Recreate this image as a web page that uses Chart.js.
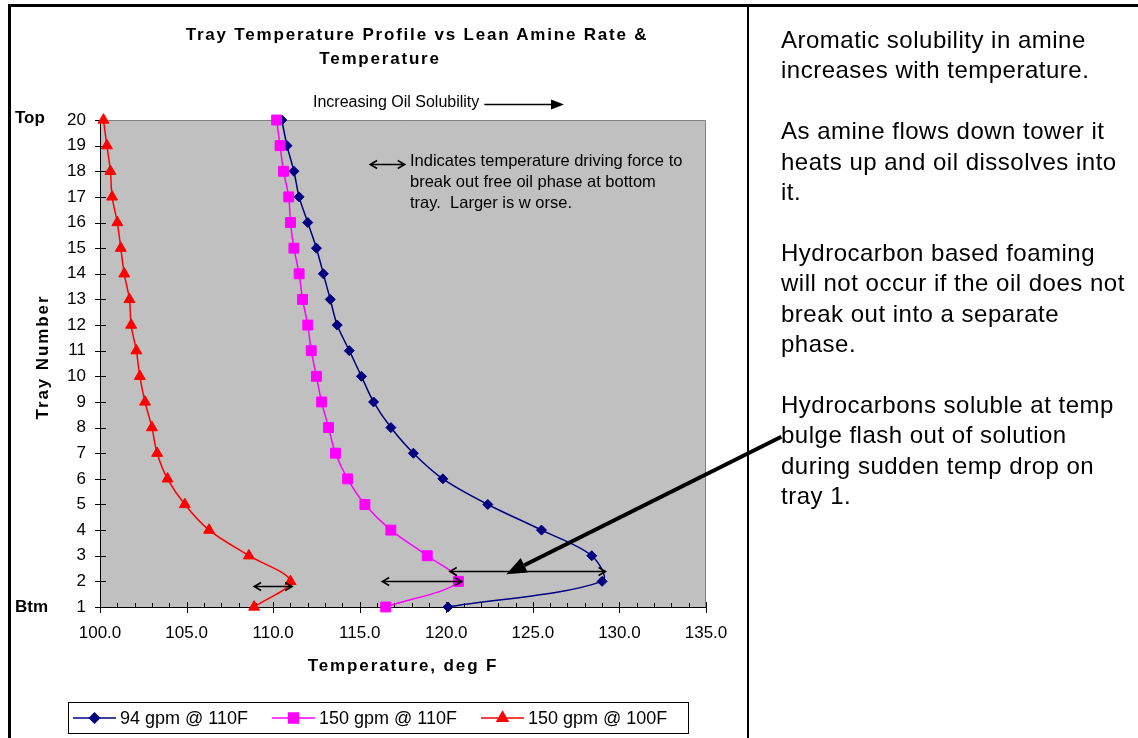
<!DOCTYPE html>
<html>
<head>
<meta charset="utf-8">
<script src="https://cdn.jsdelivr.net/npm/chart.js@4.4.1/dist/chart.umd.min.js"></script>
<style>
  body { margin: 0; background: #fff; }
  #wrap { position: relative; width: 1138px; height: 738px; overflow: hidden; background: #fff; font-family: "Liberation Sans", Arial, sans-serif; color: #000; }
  #c { position: absolute; left: 0; top: 0; }
  .line { position: absolute; background: #000; }
  .txt { position: absolute; white-space: nowrap; }
  .bold { font-weight: bold; }
</style>
</head>
<body>
<div id="wrap">
  <canvas id="c" width="1138" height="738"></canvas>

  <div class="line" style="left:8px;top:4px;width:1130px;height:3px"></div>
  <div class="line" style="left:8px;top:4px;width:3px;height:734px"></div>
  <div class="line" style="left:747px;top:4px;width:2px;height:734px"></div>

  <!-- titulo -->
  <div class="txt bold" style="left:417px;top:25px;transform:translateX(-50%);font-size:17px;letter-spacing:1.8px">Tray Temperature Profile vs Lean Amine Rate &amp;</div>
  <div class="txt bold" style="left:380px;top:49px;transform:translateX(-50%);font-size:17px;letter-spacing:1.8px">Temperature</div>

  <div class="txt" style="left:313px;top:93px;font-size:16px">Increasing Oil Solubility</div>

  <div class="txt bold" style="left:15px;top:108px;font-size:17px">Top</div>
  <div class="txt bold" style="left:15px;top:597px;font-size:17px">Btm</div>

  <div class="txt bold" style="left:43px;top:357px;transform:translate(-50%,-50%) rotate(-90deg);font-size:17px;letter-spacing:1.9px">Tray Number</div>
  <div class="txt bold" style="left:403px;top:656px;transform:translateX(-50%);font-size:17px;letter-spacing:1.9px">Temperature, deg F</div>

  <div class="txt" style="left:410px;top:150px;font-size:16.5px;line-height:21px">Indicates temperature driving force to<br>break out free oil phase at bottom<br>tray.&nbsp; Larger is w orse.</div>

  <!-- painel de notas -->
  <div class="txt" style="left:781px;top:25px;font-size:24px;letter-spacing:0.5px;line-height:30.4px">
    Aromatic solubility in amine<br>increases with temperature.<br><br>
    As amine flows down tower it<br>heats up and oil dissolves into<br>it.<br><br>
    Hydrocarbon based foaming<br>will not occur if the oil does not<br>break out into a separate<br>phase.<br><br>
    Hydrocarbons soluble at temp<br>bulge flash out of solution<br>during sudden temp drop on<br>tray 1.
  </div>
</div>

<script>
// Dados (tray 1 -> 20)
const trays = [1, 2, 3, 4, 5, 6, 7, 8, 9, 10, 11, 12, 13, 14, 15, 16, 17, 18, 19, 20];
const gpm94at110 = [120.1, 129.0, 128.4, 125.5, 122.4, 119.8, 118.1, 116.8, 115.8, 115.1, 114.4, 113.7, 113.3, 112.9, 112.5, 112.0, 111.5, 111.2, 110.8, 110.5];
const gpm150at110 = [116.5, 120.7, 118.9, 116.8, 115.3, 114.3, 113.6, 113.2, 112.8, 112.5, 112.2, 112.0, 111.7, 111.5, 111.2, 111.0, 110.9, 110.6, 110.4, 110.2];
const gpm150at100 = [108.9, 111.0, 108.6, 106.3, 104.9, 103.9, 103.3, 103.0, 102.6, 102.3, 102.1, 101.8, 101.7, 101.4, 101.2, 101.0, 100.7, 100.6, 100.4, 100.2];
const seriesLabels = ["94 gpm @ 110F", "150 gpm @ 110F", "150 gpm @ 100F"];
const xTicks = [100, 105, 110, 115, 120, 125, 130, 135];

// setas de "driving force" (temp inicial, temp final, tray)
const forceArrows = [[108.9, 111.1, 1.8], [116.3, 120.9, 2.0], [120.2, 129.2, 2.4]];
const keyArrow = [115.6, 117.6, 18.3];
const bigArrow = { from: [139.35, 7.64], to: [123.47, 2.28] };
const solubilityArrow = [122.2, 126.8, 20.62];

function pontos(temps) {
  return temps.map((t, i) => ({ x: t, y: trays[i] }));
}

function setaDupla(ctx, x1, x2, y) {
  ctx.beginPath();
  ctx.moveTo(x1, y); ctx.lineTo(x2, y);
  ctx.moveTo(x1 + 7, y - 4); ctx.lineTo(x1, y); ctx.lineTo(x1 + 7, y + 4);
  ctx.moveTo(x2 - 7, y - 4); ctx.lineTo(x2, y); ctx.lineTo(x2 - 7, y + 4);
  ctx.stroke();
}

function setaCheia(ctx, x1, y1, x2, y2, w, len, half) {
  const ang = Math.atan2(y2 - y1, x2 - x1);
  const bx = x2 - Math.cos(ang) * len, by = y2 - Math.sin(ang) * len;
  ctx.lineWidth = w;
  ctx.beginPath(); ctx.moveTo(x1, y1); ctx.lineTo(bx, by); ctx.stroke();
  ctx.beginPath();
  ctx.moveTo(x2, y2);
  ctx.lineTo(bx + Math.sin(ang) * half, by - Math.cos(ang) * half);
  ctx.lineTo(bx - Math.sin(ang) * half, by + Math.cos(ang) * half);
  ctx.closePath(); ctx.fill();
}

const eixosPlugin = {
  id: "eixos",
  beforeDatasetsDraw(chart) {
    const { ctx, chartArea: a, scales: { x, y } } = chart;
    ctx.save();
    ctx.fillStyle = "#C0C0C0";
    ctx.fillRect(a.left, a.top, a.right - a.left, a.bottom - a.top);
    ctx.strokeStyle = "#808080";
    ctx.lineWidth = 1;
    ctx.beginPath();
    ctx.moveTo(a.left, a.top + 0.5); ctx.lineTo(a.right - 0.5, a.top + 0.5); ctx.lineTo(a.right - 0.5, a.bottom);
    ctx.stroke();

    ctx.strokeStyle = "#000";
    ctx.beginPath();
    ctx.moveTo(a.left + 0.5, a.top); ctx.lineTo(a.left + 0.5, a.bottom + 0.5); ctx.lineTo(a.right, a.bottom + 0.5);
    y.ticks.forEach(t => {
      const py = Math.round(y.getPixelForValue(t.value)) + 0.5;
      ctx.moveTo(a.left - 5, py); ctx.lineTo(a.left + 6, py);
    });
    for (let v = x.min; v <= x.max; v++) {
      const px = Math.round(x.getPixelForValue(v)) + 0.5;
      if (v % 5 === 0) { ctx.moveTo(px, a.bottom - 5); ctx.lineTo(px, a.bottom + 6); }
      else { ctx.moveTo(px, a.bottom - 4); ctx.lineTo(px, a.bottom); }
    }
    ctx.stroke();
    ctx.restore();
  },
  afterDatasetsDraw(chart) {
    const { ctx, scales: { x, y } } = chart;
    ctx.save();
    ctx.strokeStyle = "#000";
    ctx.fillStyle = "#000";
    ctx.lineWidth = 1.5;
    forceArrows.concat([keyArrow]).forEach(([t1, t2, tr]) => {
      setaDupla(ctx, x.getPixelForValue(t1), x.getPixelForValue(t2), Math.round(y.getPixelForValue(tr)) + 0.5);
    });
    const sy = Math.round(y.getPixelForValue(solubilityArrow[2])) + 0.5;
    setaCheia(ctx, x.getPixelForValue(solubilityArrow[0]), sy, x.getPixelForValue(solubilityArrow[1]), sy, 1.5, 13, 5);
    setaCheia(ctx,
      x.getPixelForValue(bigArrow.from[0]), y.getPixelForValue(bigArrow.from[1]),
      x.getPixelForValue(bigArrow.to[0]), y.getPixelForValue(bigArrow.to[1]), 4, 20, 8);
    ctx.restore();
  },
  afterDraw(chart) {
    // legenda
    const ctx = chart.ctx;
    ctx.save();
    ctx.strokeStyle = "#000";
    ctx.lineWidth = 1;
    ctx.strokeRect(68.5, 702.5, 620, 31);
    ctx.font = "18px 'Liberation Sans', Arial, sans-serif";
    ctx.textBaseline = "middle";
    let lx = 73;
    const ly = 718;
    chart.data.datasets.forEach(ds => {
      ctx.strokeStyle = ds.borderColor;
      ctx.fillStyle = ds.backgroundColor;
      ctx.lineWidth = 1.5;
      ctx.beginPath(); ctx.moveTo(lx, ly); ctx.lineTo(lx + 43, ly); ctx.stroke();
      Chart.helpers.drawPoint(ctx, { pointStyle: ds.pointStyle, radius: ds.pointRadius, rotation: 0, borderWidth: 1 }, lx + 21.5, ly);
      ctx.fillStyle = "#000";
      ctx.fillText(ds.label, lx + 47, ly + 1);
      lx += 47 + ctx.measureText(ds.label).width + 24;
    });
    ctx.restore();
  }
};

function serie(label, temps, cor, estilo, raio, ordem) {
  return {
    label: label,
    data: pontos(temps),
    showLine: true,
    borderColor: cor,
    backgroundColor: cor,
    borderWidth: 1.5,
    pointStyle: estilo,
    pointRadius: raio,
    pointBorderWidth: 1,
    tension: 0.33,
    clip: false,
    order: ordem
  };
}

new Chart(document.getElementById("c"), {
  type: "scatter",
  data: {
    datasets: [
      serie(seriesLabels[0], gpm94at110, "#000080", "rectRot", 5, 3),
      serie(seriesLabels[1], gpm150at110, "#FF00FF", "rect", 7, 2),
      serie(seriesLabels[2], gpm150at100, "#FF0000", "triangle", 6.3, 1)
    ]
  },
  plugins: [eixosPlugin],
  options: {
    responsive: false,
    animation: false,
    events: [],
    layout: { padding: { left: 0, top: 120, right: 432, bottom: 0 } },
    plugins: { legend: { display: false }, tooltip: { enabled: false }, title: { display: false } },
    scales: {
      x: {
        type: "linear",
        min: 100, max: 135,
        afterBuildTicks: s => { s.ticks = xTicks.map(v => ({ value: v })); },
        afterFit: s => { s.height = 131; },
        grid: { display: false, drawTicks: false },
        border: { display: false },
        ticks: {
          padding: 16,
          color: "#000",
          font: { family: "'Liberation Sans', Arial, sans-serif", size: 17 },
          callback: v => v.toFixed(1),
          maxRotation: 0
        }
      },
      y: {
        type: "linear",
        min: 1, max: 20,
        afterBuildTicks: s => { s.ticks = trays.map(v => ({ value: v })); },
        afterFit: s => { s.width = 100; },
        grid: { display: false, drawTicks: false },
        border: { display: false },
        ticks: {
          padding: 14,
          color: "#000",
          font: { family: "'Liberation Sans', Arial, sans-serif", size: 17 }
        }
      }
    }
  }
});
</script>
</body>
</html>
